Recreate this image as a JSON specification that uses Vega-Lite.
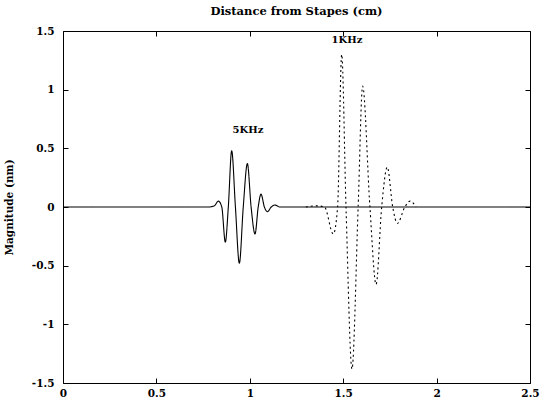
{
  "$schema": "https://vega.github.io/schema/vega-lite/v6.json",
  "width": 467,
  "height": 352,
  "autosize": "none",
  "padding": {"left": 63, "top": 31, "right": 10, "bottom": 23},
  "background": "white",
  "config": {
    "view": {"stroke": "black", "strokeWidth": 1},
    "axis": {"grid": false, "domain": false, "tickColor": "black", "tickWidth": 1, "labelColor": "black", "labelFont": "DejaVu Serif", "labelFontWeight": "bold", "labelFontSize": 10.5, "titleFont": "DejaVu Serif", "titleFontWeight": "bold", "titleFontSize": 10.5, "titleColor": "black"}
  },
  "title": {"text": "Distance from Stapes (cm)", "font": "DejaVu Serif", "fontWeight": "bold", "fontSize": 11.5, "color": "black", "anchor": "middle", "offset": 9},
  "datasets": {
    "waves": [
      {"series": "5KHz", "x": 0, "y": 0},
      {"series": "5KHz", "x": 0.78, "y": 0},
      {"series": "5KHz", "x": 0.81, "y": 0.01},
      {"series": "5KHz", "x": 0.832, "y": 0.05},
      {"series": "5KHz", "x": 0.85, "y": 0},
      {"series": "5KHz", "x": 0.869, "y": -0.3},
      {"series": "5KHz", "x": 0.885, "y": 0},
      {"series": "5KHz", "x": 0.903, "y": 0.48},
      {"series": "5KHz", "x": 0.923, "y": 0},
      {"series": "5KHz", "x": 0.944, "y": -0.48},
      {"series": "5KHz", "x": 0.965, "y": 0},
      {"series": "5KHz", "x": 0.987, "y": 0.37},
      {"series": "5KHz", "x": 1.007, "y": 0},
      {"series": "5KHz", "x": 1.028, "y": -0.23},
      {"series": "5KHz", "x": 1.045, "y": 0},
      {"series": "5KHz", "x": 1.06, "y": 0.11},
      {"series": "5KHz", "x": 1.078, "y": 0},
      {"series": "5KHz", "x": 1.094, "y": -0.04},
      {"series": "5KHz", "x": 1.115, "y": 0},
      {"series": "5KHz", "x": 1.135, "y": 0.017},
      {"series": "5KHz", "x": 1.16, "y": 0},
      {"series": "5KHz", "x": 2.5, "y": 0},
      {"series": "1KHz", "x": 1.3, "y": 0},
      {"series": "1KHz", "x": 1.36, "y": 0.01},
      {"series": "1KHz", "x": 1.4, "y": 0},
      {"series": "1KHz", "x": 1.447, "y": -0.23},
      {"series": "1KHz", "x": 1.47, "y": 0},
      {"series": "1KHz", "x": 1.492, "y": 1.3},
      {"series": "1KHz", "x": 1.515, "y": 0},
      {"series": "1KHz", "x": 1.547, "y": -1.38},
      {"series": "1KHz", "x": 1.58, "y": 0},
      {"series": "1KHz", "x": 1.604, "y": 1.03},
      {"series": "1KHz", "x": 1.643, "y": 0},
      {"series": "1KHz", "x": 1.676, "y": -0.66},
      {"series": "1KHz", "x": 1.706, "y": 0},
      {"series": "1KHz", "x": 1.736, "y": 0.34},
      {"series": "1KHz", "x": 1.765, "y": 0},
      {"series": "1KHz", "x": 1.79, "y": -0.14},
      {"series": "1KHz", "x": 1.83, "y": 0},
      {"series": "1KHz", "x": 1.858, "y": 0.05},
      {"series": "1KHz", "x": 1.89, "y": 0}
    ],
    "labels": [
      {"x": 0.99, "y": 0.66, "label": "5KHz"},
      {"x": 1.52, "y": 1.42, "label": "1KHz"}
    ]
  },
  "layer": [
    {
      "data": {"name": "waves"},
      "mark": {"type": "line", "interpolate": "monotone", "strokeWidth": 1.1, "color": "black"},
      "encoding": {
        "x": {"field": "x", "type": "quantitative", "scale": {"domain": [0, 2.5], "nice": false, "zero": false},
              "axis": {"orient": "bottom", "title": null, "values": [0, 0.5, 1, 1.5, 2, 2.5], "tickSize": -5, "labelPadding": 10, "labelExpr": "'' + datum.value", "labelFlush": false}},
        "y": {"field": "y", "type": "quantitative", "scale": {"domain": [-1.5, 1.5], "nice": false},
              "axis": {"orient": "left", "title": "Magnitude (nm)", "values": [-1.5, -1, -0.5, 0, 0.5, 1, 1.5], "tickSize": -5, "labelPadding": 14, "titlePadding": 17, "labelExpr": "'' + datum.value", "labelFlush": false}},
        "detail": {"field": "series"},
        "strokeDash": {"field": "series", "type": "nominal", "scale": {"domain": ["5KHz", "1KHz"], "range": [[1, 0], [2, 3]]}, "legend": null}
      }
    },
    {
      "data": {"name": "labels"},
      "mark": {"type": "text", "font": "DejaVu Serif", "fontWeight": "bold", "fontSize": 10, "color": "black", "align": "center", "baseline": "middle"},
      "encoding": {
        "x": {"field": "x", "type": "quantitative", "scale": {"domain": [0, 2.5], "nice": false, "zero": false},
              "axis": {"orient": "top", "title": null, "labels": false, "values": [0, 0.5, 1, 1.5, 2, 2.5], "tickSize": -5}},
        "y": {"field": "y", "type": "quantitative", "scale": {"domain": [-1.5, 1.5], "nice": false},
              "axis": {"orient": "right", "title": null, "labels": false, "values": [-1.5, -1, -0.5, 0, 0.5, 1, 1.5], "tickSize": -5}},
        "text": {"field": "label"}
      }
    }
  ],
  "resolve": {"axis": {"x": "independent", "y": "independent"}}
}
